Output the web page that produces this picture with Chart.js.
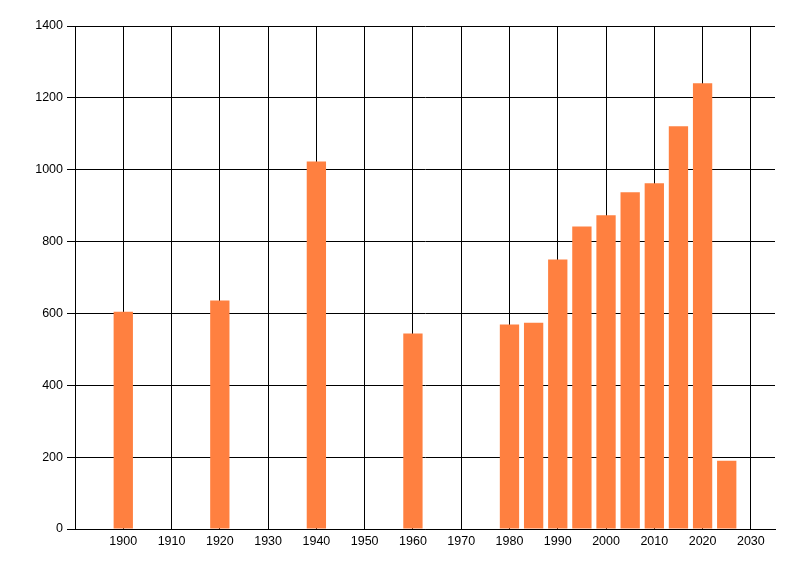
<!DOCTYPE html>
<html>
<head>
<meta charset="utf-8">
<script src="https://cdn.jsdelivr.net/npm/chart.js@4"></script>
<style>
html,body{margin:0;padding:0;background:#fff;}
#wrap{width:800px;height:576px;}
</style>
</head>
<body>
<div id="wrap"><canvas id="c" width="800" height="576"></canvas></div>
<script>
const years = [1900, 1920, 1940, 1960, 1980, 1985, 1990, 1995, 2000, 2005, 2010, 2015, 2020, 2025];
const values = [605, 636, 1023, 544, 569, 574, 750, 842, 873, 937, 962, 1121, 1241, 190];
const xTickValues = [1900, 1910, 1920, 1930, 1940, 1950, 1960, 1970, 1980, 1990, 2000, 2010, 2020, 2030];
const yTickValues = [0, 200, 400, 600, 800, 1000, 1200, 1400];

const FONT = {family: '"Liberation Sans Narrow", "Liberation Sans", Arial, sans-serif', size: 12.5};

new Chart(document.getElementById('c'), {
  type: 'bar',
  data: {
    datasets: [{
      data: years.map((y, i) => ({x: y, y: values[i]})),
      backgroundColor: 'rgb(255,128,64)',
      borderWidth: 0,
      barPercentage: 0.8,
      categoryPercentage: 1.0
    }]
  },
  options: {
    responsive: false,
    animation: false,
    devicePixelRatio: 1,
    layout: {padding: {top: 26, right: 25, left: 0, bottom: 0}},
    plugins: {legend: {display: false}, tooltip: {enabled: false}},
    scales: {
      x: {
        type: 'linear',
        min: 1890,
        max: 2035,
        offset: false,
        afterBuildTicks: s => { s.ticks = xTickValues.map(v => ({value: v})); },
        afterFit: s => { s.height = 47; },
        grid: {color: '#000', lineWidth: 1, drawTicks: false, offset: false},
        border: {color: '#000', width: 1},
        ticks: {color: '#000', font: FONT, padding: 5, maxRotation: 0, autoSkip: false,
          callback: v => String(v)}
      },
      y: {
        min: 0,
        max: 1400,
        afterBuildTicks: s => { s.ticks = yTickValues.map(v => ({value: v})); },
        afterFit: s => { s.width = 75; },
        grid: {color: '#000', lineWidth: 1, drawTicks: true, tickLength: 8},
        border: {color: '#000', width: 1},
        ticks: {color: '#000', font: FONT, padding: 4, callback: v => String(v)}
      }
    }
  }
});
</script>
</body>
</html>
